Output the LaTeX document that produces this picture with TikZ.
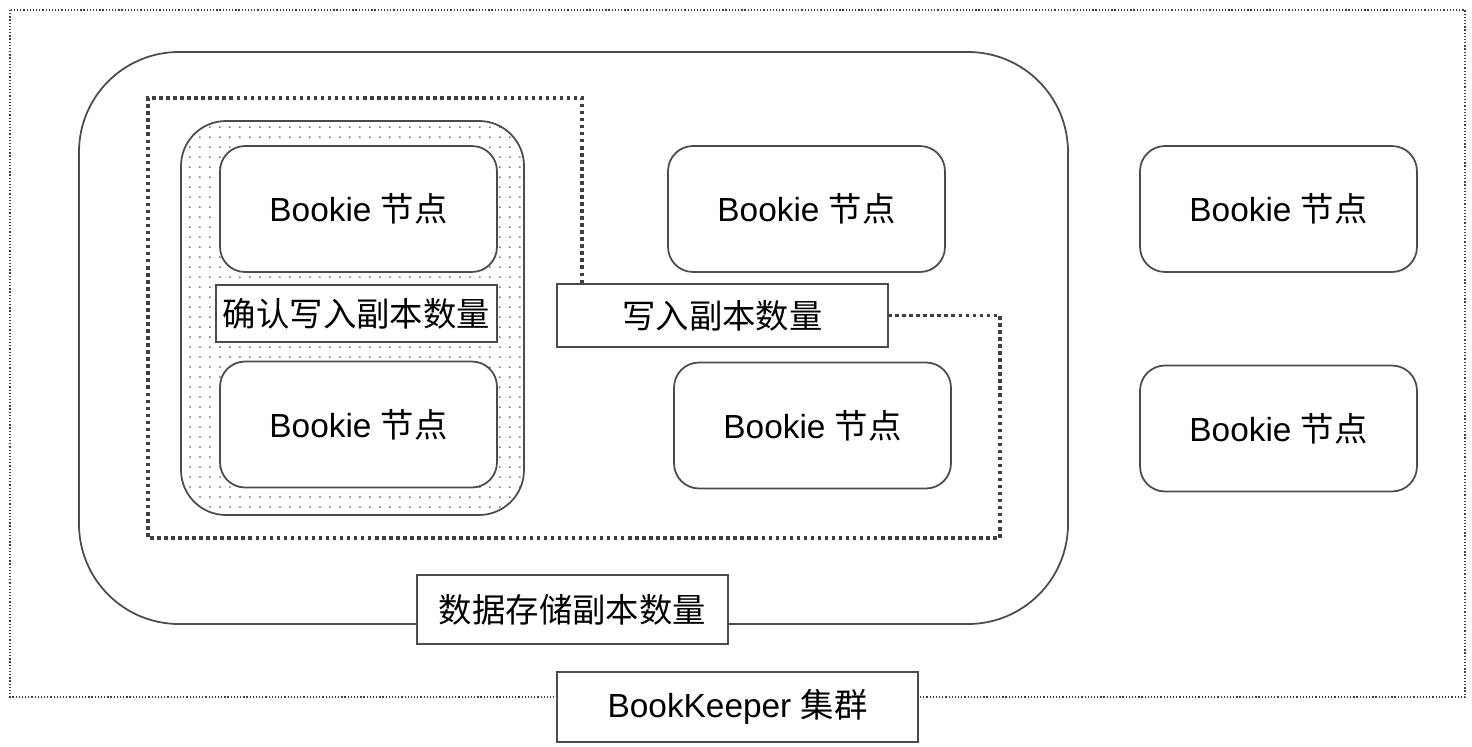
\documentclass[tikz,border=0pt]{standalone}
\usepackage{fontspec}
\setmainfont{Liberation Sans}
\newfontfamily\cjk{Noto Sans CJK SC}
\usepackage{tikz}
\usetikzlibrary{patterns.meta}
\definecolor{mylinecolor}{rgb}{0.3,0.3,0.3}
\tikzset{
  bookie/.style={draw=mylinecolor, line width=1pt, rounded corners=0.5cm, fill=white,
    minimum width=5.54cm, minimum height=2.52cm, inner sep=0pt, font=\fontsize{19}{21}\selectfont},
  qlabel/.style={draw=mylinecolor, line width=1.1pt, fill=white, inner sep=0pt,
    font=\fontsize{19}{22}\selectfont\cjk},
  clusterline/.style={draw=black!75, line width=0.7pt, dash pattern=on 0.7pt off 1.1pt},
  quorumline/.style={draw=black!75, line width=2pt, dash pattern=on 2pt off 2pt},
  shell/.style={draw=mylinecolor, line width=1pt, rounded corners=0.9cm,
    pattern={Dots[distance=0.2cm, radius=0.5pt]}, pattern color=black!70}
}

\begin{document}
\begin{tikzpicture}[x=0.02cm,y=-0.02cm]
\useasboundingbox (0,0) rectangle (1472,747);
\draw[clusterline] (10,10) rectangle (1465,697);
\draw[draw=mylinecolor, line width=1pt, rounded corners=2cm] (79,52) rectangle (1068,624);
\draw[shell] (181,121) rectangle (524,515);
\node[bookie] (bk1) at (358.5,209) {Bookie {\cjk 节点}};
\node[bookie] (bk2) at (358.5,424.5) {Bookie {\cjk 节点}};
\node[bookie] (bk3) at (806.5,209) {Bookie {\cjk 节点}};
\node[bookie] (bk4) at (812.5,425.5) {Bookie {\cjk 节点}};
\node[bookie] (bk5) at (1278.5,209) {Bookie {\cjk 节点}};
\node[bookie] (bk6) at (1278.5,428.5) {Bookie {\cjk 节点}};
\node[qlabel, minimum width=5.62cm, minimum height=1.14cm] (ackq) at (356.5,313.5) {确认写入副本数量};
\node[qlabel, minimum width=6.62cm, minimum height=1.26cm] (writeq) at (722.5,315.5) {写入副本数量};
\node[qlabel, minimum width=6.22cm, minimum height=1.38cm] (storeq) at (572.5,609.5) {数据存储副本数量};
\node[qlabel, minimum width=7.22cm, minimum height=1.4cm, font=\fontsize{19}{21}\selectfont] (clusterlbl) at (737.5,707) {BookKeeper {\cjk 集群}};
\draw[quorumline] ([xshift=0.52cm]writeq.north west) |- (148,98) |- (1000,538) |- (writeq.east);
\end{tikzpicture}
\end{document}
